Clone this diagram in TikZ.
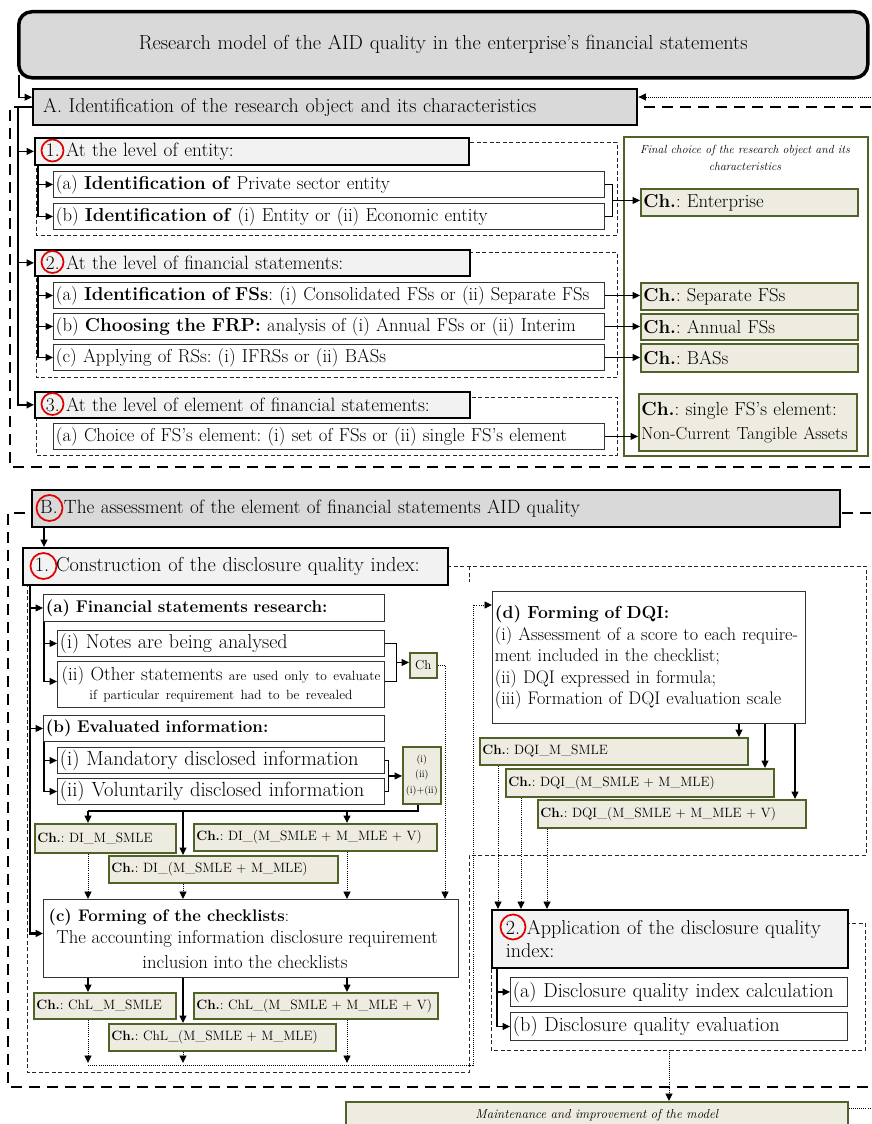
\documentclass[tikz,border=0pt]{standalone}
\usepackage{fontspec}
\usetikzlibrary{arrows.meta,calc}
\definecolor{mgray}{HTML}{D9D9D9}
\definecolor{lgray}{HTML}{F2F2F2}
\definecolor{beige}{HTML}{EEECE1}
\definecolor{olivegreen}{HTML}{4F6228}
\definecolor{ringred}{HTML}{E00000}
\frenchspacing
\newcommand{\fs}[2]{\fontsize{#1}{#2}\selectfont}
\newcommand{\mkbox}[7]{%
  \pgfmathsetmacro{\mkbw}{#5-#3}%
  \pgfmathsetmacro{\mkbh}{#6-#4}%
  \pgfmathsetmacro{\mktw}{#5-#3-5}%
  \node[#1, anchor=north west, minimum width=\mkbw pt, minimum height=\mkbh pt, text width=\mktw pt] (#2) at (#3,#4) {#7};}
\tikzset{
  every node/.style={inner xsep=2.5pt, inner ysep=0pt, align=left},
  titlebox/.style={draw=black, line width=3.5pt, fill=mgray, rounded corners=13pt, align=center, font=\fs{20.3}{24}},
  hdrbox/.style={draw=black, line width=2.4pt, fill=mgray, font=\fs{20}{23}},
  lvlbox/.style={draw=black, line width=1.8pt, fill=lgray, font=\fs{19.3}{22}},
  rowbox/.style={draw=black!80, line width=0.9pt, fill=white, font=\fs{18.7}{22}},
  chbox/.style={draw=olivegreen, line width=1.6pt, fill=beige, font=\fs{18.7}{22}},
  chsmall/.style={chbox, font=\fs{13.5}{16}},
  panel/.style={draw=olivegreen, line width=1.9pt, fill=white},
  grp/.style={draw=black!85, line width=0.7pt, dash pattern=on 4pt off 2.5pt},
  secdash/.style={draw=black, line width=2.4pt, dash pattern=on 11pt off 7pt},
  conn/.style={draw=black, line width=1.1pt},
  tip/.style={-{Triangle[length=7.5pt,width=7pt]}},
  arr/.style={conn, tip},
  dotline/.style={draw=black, line width=0.9pt, dash pattern=on 0.9pt off 1.2pt},
  dotarr/.style={dotline, tip},
  ring/.style={draw=ringred, line width=1.7pt},
}
\begin{document}
\begin{tikzpicture}[x=1pt,y=-1pt]
\useasboundingbox (0,0) rectangle (871,1124);
\clip (0,0) rectangle (871,1124);

% ---------- section frames ----------
\draw[secdash] (871,107) -- (10,107) -- (10,467) -- (871,467);
\draw[secdash] (871,513) -- (8,513) -- (8,1087) -- (871,1087);

% ---------- title and A ----------
\mkbox{titlebox}{T}{17}{10}{866}{76}{Research model of the AID quality in the enterprise’s financial statements}
\mkbox{hdrbox}{A}{32}{88}{636}{124}{\hspace*{7.5pt}A. Identification of the research object and its characteristics}

% group frames
\draw[grp] (36,142) rectangle (617,235);
\draw[grp] (36,252) rectangle (617,377);
\draw[grp] (36,397) rectangle (617,455);

% right panel
\node[panel, anchor=north west, minimum width=244pt, minimum height=319pt] (P) at (623,136) {};
\node[font=\fs{11.8}{17}\itshape, align=center] (Pt) at (745,158) {Final choice of the research object and its\\characteristics};

% level 1
\mkbox{lvlbox}{L1}{34}{137}{468}{164}{\hspace*{8.5pt}1. At the level of entity:}
\mkbox{rowbox}{R1a}{53}{171}{604}{197}{(a) \textbf{Identification of} Private sector entity}
\mkbox{rowbox}{R1b}{53}{203}{604}{229}{(b) \textbf{Identification of} (i) Entity or (ii) Economic entity}
% level 2
\mkbox{lvlbox}{L2}{34}{249}{469}{275}{\hspace*{8.5pt}2. At the level of financial statements:}
\mkbox{rowbox}{R2a}{53}{282}{604}{308}{(a) \textbf{Identification of FSs}: (i) Consolidated FSs or (ii) Separate FSs}
\mkbox{rowbox}{R2b}{53}{313}{604}{339}{(b) \textbf{Choosing the FRP:} analysis of (i) Annual FSs or (ii) Interim}
\mkbox{rowbox}{R2c}{53}{344}{604}{370}{(c) Applying of RSs: (i) IFRSs or (ii) BASs}
% level 3
\mkbox{lvlbox}{L3}{34}{391}{469}{417}{\hspace*{8.5pt}3. At the level of element of financial statements:}
\mkbox{rowbox}{R3a}{53}{423}{604}{449}{(a) Choice of FS’s element: (i) set of FSs or (ii) single FS’s element}

% Ch boxes (A)
\mkbox{chbox}{ChE}{640}{188}{857}{215}{\textbf{Ch.}: Enterprise}
\mkbox{chbox}{ChS}{640}{282}{857}{309}{\textbf{Ch.}: Separate FSs}
\mkbox{chbox}{ChA}{640}{313}{857}{339}{\textbf{Ch.}: Annual FSs}
\mkbox{chbox}{ChB}{640}{343}{857}{371}{\textbf{Ch.}: BASs}
\mkbox{chbox, font=\fs{19}{24}}{ChN}{638}{393}{856}{450}{\textbf{Ch.}: single FS’s element:\\{\fs{17.5}{24}Non-Current Tangible Assets}}

% ---------- section B ----------
\draw[grp] (447,566) -- (866,566) -- (866,855) -- (469,855) -- (469,1072) -- (27,1072) -- (27,584);
\draw[grp] (469,566) -- (469,582);
\draw[grp] (491,923) rectangle (865,1050);

\mkbox{hdrbox, font=\fs{19.2}{22}}{B}{31}{489}{839}{526}{\hspace*{5.5pt}B. The assessment of the element of financial statements AID quality}
\mkbox{lvlbox, font=\fs{20.3}{23}}{C1}{22}{547}{447}{584}{\hspace*{9.5pt}1. Construction of the disclosure quality index:}

\mkbox{rowbox, font=\fs{17}{20}}{Fa}{43}{594}{384}{621}{\textbf{(a) Financial statements research:}}
\mkbox{rowbox, font=\fs{20}{22}}{Fai}{57}{630}{384}{656}{(i) Notes are being analysed}
\mkbox{rowbox, font=\fs{18.9}{19.5}, align=center}{Faii}{57}{661}{384}{707}{\mbox{(ii) Other statements {\fs{13.4}{15}are used only to evaluate}}\\{\fs{13.4}{15}if particular requirement had to be revealed}}
\mkbox{rowbox, font=\fs{17}{20}}{Fb}{43}{715}{384}{741}{\textbf{(b) Evaluated information:}}
\mkbox{rowbox, font=\fs{20.5}{22}}{Fbi}{57}{747}{384}{773}{(i) Mandatory disclosed information}
\mkbox{rowbox, font=\fs{20.5}{22}}{Fbii}{57}{778}{384}{804}{(ii) Voluntarily disclosed information}
\mkbox{chsmall, align=center, font=\fs{13}{15}}{chC}{409}{652}{436}{677}{Ch}
\mkbox{chsmall, align=center, font=\fs{10}{15.5}}{chI}{402}{746}{440}{803}{(i)\\(ii)\\(i)+(ii)}

\mkbox{chsmall}{DI1}{34}{823}{175}{852}{\textbf{Ch.}: DI\_M\_SMLE}
\mkbox{chsmall}{DI3}{193}{823}{436}{850}{\textbf{Ch.}: DI\_(M\_SMLE + M\_MLE + V)}
\mkbox{chsmall}{DI2}{108}{855}{337}{882}{\textbf{Ch.}: DI\_(M\_SMLE + M\_MLE)}

\mkbox{rowbox}{Fc}{43}{899}{458}{977}{}
\node[font=\fs{16.8}{19}, anchor=west] (fcT1) at (46,917) {\textbf{(c) Forming of the checklists}:};
\node[font=\fs{18.7}{20}] (fcT2) at (247,939) {The accounting information disclosure requirement};
\node[font=\fs{18.7}{20}] (fcT3) at (245,962) {inclusion into the checklists};

\mkbox{chsmall}{ChL1}{33}{992}{175}{1018}{\textbf{Ch.}: ChL\_M\_SMLE}
\mkbox{chsmall}{ChL3}{193}{992}{437}{1018}{\textbf{Ch.}: ChL\_(M\_SMLE + M\_MLE + V)}
\mkbox{chsmall}{ChL2}{108}{1023}{335}{1050}{\textbf{Ch.}: ChL\_(M\_SMLE + M\_MLE)}

\mkbox{rowbox, font=\fs{18.2}{21.5}}{D}{492}{591}{805}{723}{{\fs{17.5}{21.5}\bfseries (d) Forming of DQI:}\\(i) Assessment of a score to each require-\\ment included in the checklist;\\(ii) DQI expressed in formula;\\(iii) Formation of DQI evaluation scale}
\mkbox{chsmall}{DQI1}{479}{737}{747}{764}{\textbf{Ch.}: DQI\_M\_SMLE}
\mkbox{chsmall}{DQI2}{505}{768}{773}{796}{\textbf{Ch.}: DQI\_(M\_SMLE + M\_MLE)}
\mkbox{chsmall}{DQI3}{537}{799}{805}{827}{\textbf{Ch.}: DQI\_(M\_SMLE + M\_MLE + V)}

\mkbox{lvlbox, font=\fs{20.1}{23}}{App}{491}{909}{847}{967}{\hspace*{11.5pt}2. Application of the disclosure quality\\\hspace*{11.5pt}index:}
\mkbox{rowbox, font=\fs{20.3}{22}}{AppA}{510}{977}{847}{1006}{(a) Disclosure quality index calculation}
\mkbox{rowbox, font=\fs{20.3}{22}}{AppB}{510}{1012}{847}{1040}{(b) Disclosure quality evaluation}

\mkbox{chbox, align=center, font=\fs{13}{16}\itshape}{M}{345}{1101}{847}{1128}{Maintenance and improvement of the model}

% ---------- connectors A ----------
\draw[arr] ([xshift=2pt,yshift=5pt]T.south west) |- ([yshift=10pt]A.west);
\coordinate (ax) at (18,0);
\draw[arr, line width=1.5pt] (A.west) -| (ax |- L3.west) -- (L3.west);
\draw[arr] (ax |- L1.west) -- (L1.west);
\draw[arr] (ax |- L2.west) -- (L2.west);
\coordinate (gx) at (38,0);
\draw[arr] (gx |- L1.south) |- (R1a.west);
\draw[arr] (gx |- L1.south) |- (R1b.west);
\draw[arr] (gx |- L2.south) |- (R2a.west);
\draw[arr] (gx |- L2.south) |- (R2b.west);
\draw[arr] (gx |- L2.south) |- (R2c.west);
\draw[conn] (R1a.east) -- ++(8,0) |- (R1b.east);
\coordinate (b1) at ($(R1a.east)!0.5!(R1b.east)+(8,0)$);
\draw[arr] (b1) -- (b1 -| ChE.west);
\draw[arr] (R2a.east) -- (R2a.east -| ChS.west);
\draw[arr] (R2b.east) -- (R2b.east -| ChA.west);
\draw[arr] (R2c.east) -- (R2c.east -| ChB.west);
\draw[arr] (R3a.east) -- (R3a.east -| ChN.west);
\coordinate (rtop) at (871,97);
\draw[dotarr] (rtop) -- (rtop -| A.east);

% ---------- connectors B ----------
\coordinate (bx) at (44,0);
\draw[arr] (bx |- B.south) -- (bx |- C1.north);
\coordinate (mx) at (30,0);
\coordinate (fcin) at ([yshift=5pt]Fc.west);
\draw[arr, line width=2.2pt] (mx |- C1.south) |- (fcin);
\draw[arr] (mx |- Fa.west) -- (Fa.west);
\draw[arr] (mx |- Fb.west) -- (Fb.west);
\coordinate (fax) at ([xshift=1pt]Fa.south west);
\coordinate (faii) at ([yshift=3pt]Faii.west);
\coordinate (faiie) at ([yshift=3pt]Faii.east);
\draw[arr] (fax) |- (Fai.west);
\draw[arr] (fax) |- (faii);
\draw[conn] (Fai.east) -- ++(12,0) |- (faiie);
\coordinate (ba) at ($(Fai.east)!0.5!(faiie)+(12,0)$);
\draw[arr] (ba) -- (ba -| chC.west);
\coordinate (px) at (445,0);
\draw[dotarr] (chC.east) -| (px |- Fc.north);
\coordinate (fbx) at ([xshift=1pt]Fb.south west);
\draw[arr] (fbx) |- (Fbi.west);
\draw[arr] (fbx) |- (Fbii.west);
\draw[conn] (Fbi.east) -- ++(4,0) |- (Fbii.east);
\coordinate (bb) at ($(Fbi.east)!0.5!(Fbii.east)+(4,0)$);
\draw[arr] (bb) -- (bb -| chI.west);
\coordinate (x88) at (88,0);
\coordinate (x183) at (183,0);
\coordinate (x347) at (347,0);
\coordinate (ix) at (418,0);
\coordinate (hy) at (0,811);
\draw[conn] (ix |- chI.south) -- (ix |- hy) -- (x88 |- hy);
\draw[arr] (x88 |- hy) -- (x88 |- DI1.north);
\draw[arr] (x183 |- hy) -- (x183 |- DI2.north);
\draw[arr] (x347 |- hy) -- (x347 |- DI3.north);
\draw[dotarr] (x88 |- DI1.south) -- (x88 |- Fc.north);
\draw[dotarr] (x183 |- DI2.south) -- (x183 |- Fc.north);
\draw[dotarr] (x347 |- DI3.south) -- (x347 |- Fc.north);
\draw[arr] (x88 |- Fc.south) -- (x88 |- ChL1.north);
\draw[arr] (x183 |- Fc.south) -- (x183 |- ChL2.north);
\draw[arr] (x347 |- Fc.south) -- (x347 |- ChL3.north);
\coordinate (ly) at (0,1063);
\draw[dotarr] (x88 |- ChL1.south) -- (x88 |- ly);
\draw[dotarr] (x183 |- ChL2.south) -- (x183 |- ly);
\draw[dotarr] (x347 |- ChL3.south) -- (x347 |- ly);
\coordinate (ly2) at (0,1065);
\coordinate (lx) at (473,0);
\coordinate (dy) at (0,605);
\draw[dotarr] (x88 |- ly2) -- (lx |- ly2) -- (lx |- dy) -- (D.west |- dy);
\coordinate (d1) at (739,0);
\coordinate (d2) at (765,0);
\coordinate (d3) at (795,0);
\draw[arr] (d1 |- D.south) -- (d1 |- DQI1.north);
\draw[arr] (d2 |- D.south) -- (d2 |- DQI2.north);
\draw[arr] (d3 |- D.south) -- (d3 |- DQI3.north);
\coordinate (q1) at (498,0);
\coordinate (q2) at (521,0);
\coordinate (q3) at (547,0);
\draw[dotarr] (q1 |- DQI1.south) -- (q1 |- App.north);
\draw[dotarr] (q2 |- DQI2.south) -- (q2 |- App.north);
\draw[dotarr] (q3 |- DQI3.south) -- (q3 |- App.north);
\coordinate (apx) at (497,0);
\draw[arr] (apx |- App.south) |- (AppA.west);
\draw[arr] (apx |- App.south) |- (AppB.west);
\coordinate (agS) at (669,1050);
\draw[dotarr] (agS) -- (agS |- M.north);
\coordinate (rbot) at (871,1108);
\draw[dotline] (rbot -| M.east) -- (rbot);

% ---------- red rings ----------
\draw[ring] (52.5,150.5) circle (11pt);
\draw[ring] (52.5,262) circle (11pt);
\draw[ring] (52.5,404) circle (11pt);
\draw[ring] (49.5,508) circle (13pt);
\draw[ring] (43.5,566) circle (13pt);
\draw[ring] (513,927) circle (12.5pt);
\end{tikzpicture}
\end{document}
